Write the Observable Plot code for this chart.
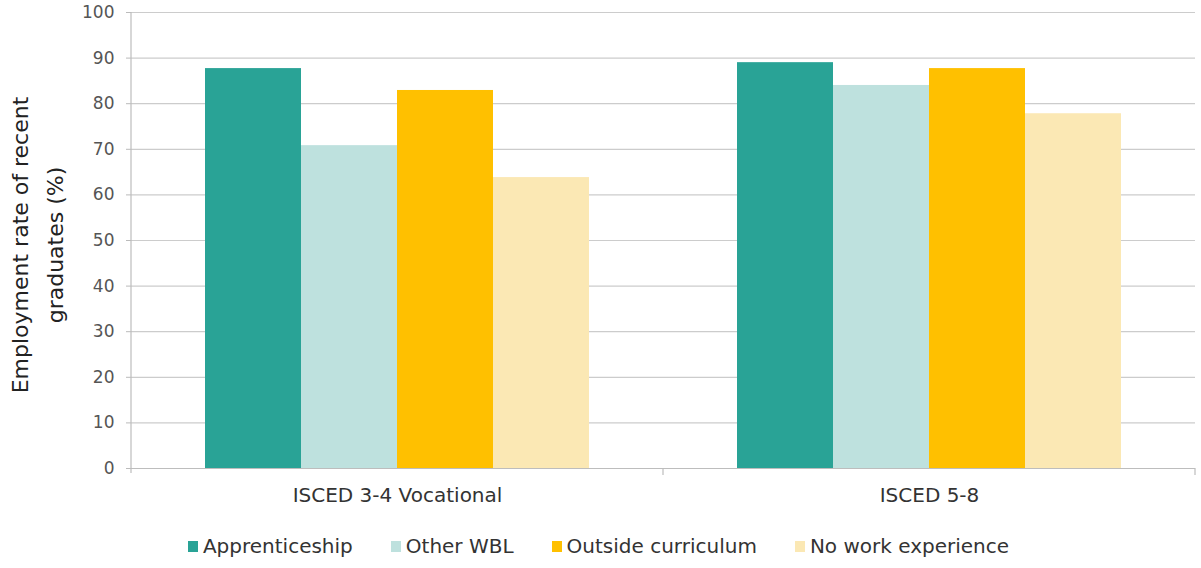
<!DOCTYPE html>
<html>
<head>
<meta charset="utf-8">
<script src="https://cdn.jsdelivr.net/npm/d3@7"></script>
<script src="https://cdn.jsdelivr.net/npm/@observablehq/plot@0.6"></script>
<style>
  body { margin: 0; background: #fff; font-family: "DejaVu Sans", Verdana, sans-serif; }
  #legend { display: flex; justify-content: center; gap: 38px; margin-top: 15px; font-size: 20px; color: #333; padding-right: 4px; line-height: 22px; }
  #legend .item { display: flex; align-items: center; gap: 5px; }
  #legend .sw { width: 10px; height: 11px; display: inline-block; }
</style>
</head>
<body>
<div id="chart"></div>
<div id="legend"></div>
<script>
const groups = ["ISCED 3-4 Vocational", "ISCED 5-8"];
const series = ["Apprenticeship", "Other WBL", "Outside curriculum", "No work experience"];
const colors = ["#29a396", "#bee1de", "#ffc000", "#fbe8b4"];
const values = {
  "ISCED 3-4 Vocational": [87.7, 70.8, 82.9, 63.8],
  "ISCED 5-8": [89.0, 84.0, 87.7, 77.8]
};
const yTicks = [0, 10, 20, 30, 40, 50, 60, 70, 80, 90, 100];
const yLabelLines = ["Employment rate of recent", "graduates (%)"];

const data = groups.flatMap(g => series.map((s, i) => ({group: g, series: s, value: values[g][i]})));

const plot = Plot.plot({
  width: 1201,
  height: 520,
  marginTop: 12,
  marginBottom: 52,
  marginLeft: 130,
  marginRight: 6,
  style: {fontFamily: "DejaVu Sans, Verdana, sans-serif", background: "#fff"},
  fx: {domain: groups, padding: 0, label: null},
  x: {domain: series, paddingInner: 0, paddingOuter: 0.756, axis: null},
  y: {domain: [0, 100], ticks: yTicks, label: null},
  color: {domain: series, range: colors},
  marks: [
    Plot.gridY(yTicks, {stroke: "#cccccc", strokeOpacity: 1, strokeWidth: 1.2}),
    Plot.barY(data, {fx: "group", x: "series", y: "value", fill: "series"}),
    Plot.ruleY([0], {stroke: "#bdbdbd", strokeWidth: 1.2}),
    Plot.axisY(yTicks, {tickSize: 5, tickPadding: 12, fontSize: 17, color: "#555", stroke: "#bbb", label: null}),
    Plot.axisFx({anchor: "bottom", tickSize: 0, tickPadding: 19, fontSize: 20, color: "#333", label: null})
  ]
});
document.getElementById("chart").appendChild(plot);

// Decorations: left axis line, group divider ticks, two-line y label
const svg = d3.select(plot);
const fx = plot.scale("fx");
const y = plot.scale("y");
const y0 = y.apply(0), y100 = y.apply(100);
const left = fx.apply(groups[0]);
const bw = fx.bandwidth;
svg.append("line").attr("x1", left).attr("x2", left).attr("y1", y100).attr("y2", y0 + 5)
  .attr("stroke", "#bdbdbd").attr("stroke-width", 1.2);
groups.forEach((g) => {
  const x = fx.apply(g) + bw;
  svg.append("line").attr("x1", x).attr("x2", x).attr("y1", y0).attr("y2", y0 + 7)
    .attr("stroke", "#bdbdbd").attr("stroke-width", 1.2);
});
const yMid = (y0 + y100) / 2 + 5;
const labelX = [20, 55];
yLabelLines.forEach((t, i) => {
  svg.append("text")
    .attr("transform", `translate(${labelX[i]},${yMid}) rotate(-90)`)
    .attr("text-anchor", "middle").attr("dy", "0.35em")
    .attr("font-size", 22).attr("fill", "#222")
    .attr("font-family", "DejaVu Sans, Verdana, sans-serif")
    .text(t);
});

const legend = d3.select("#legend");
series.forEach((s, i) => {
  const it = legend.append("div").attr("class", "item");
  it.append("span").attr("class", "sw").style("background", colors[i]);
  it.append("span").text(s);
});
</script>
</body>
</html>
